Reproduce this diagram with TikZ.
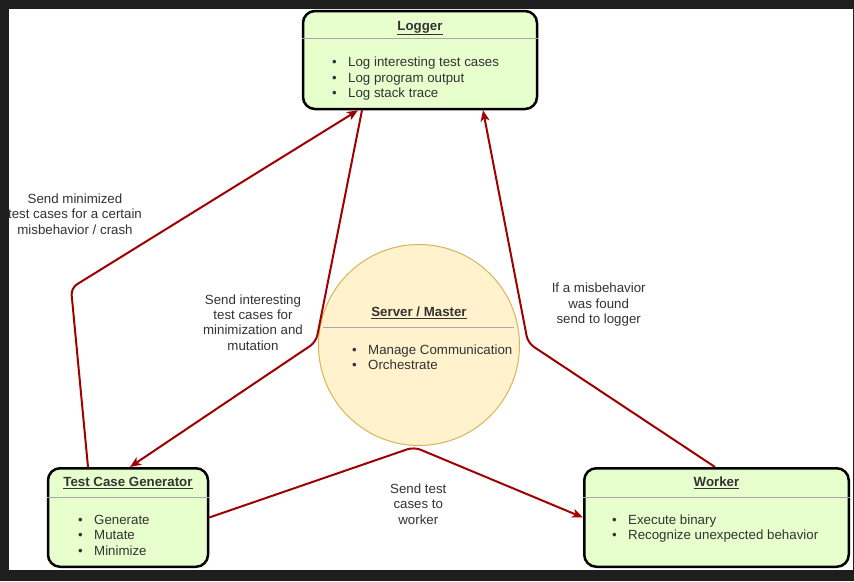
\documentclass[tikz,border=0pt]{standalone}
\usepackage{fontspec}
\setmainfont{Liberation Sans}
\usetikzlibrary{arrows.meta}
\definecolor{framec}{HTML}{1E1E1E}
\definecolor{boxfill}{HTML}{E6FFCC}
\definecolor{srvfill}{HTML}{FFF2CC}
\definecolor{srvline}{HTML}{D6B656}
\definecolor{edgec}{HTML}{A00000}
\definecolor{txtc}{HTML}{333333}
\definecolor{sepc}{HTML}{A8A8A8}
\newcommand\bul{\makebox[16pt][l]{\textbullet}}
\begin{document}
\begin{tikzpicture}[x=1pt,y=-1pt,
  box/.style={draw=black, line width=2.5pt, fill=boxfill, rounded corners=12pt, inner sep=0pt},
  srvbox/.style={circle, draw=srvline, line width=1pt, fill=srvfill, inner sep=0pt, minimum size=201pt},
  title/.style={font=\fontsize{13.3}{15.4}\selectfont\bfseries, text=txtc, anchor=base, inner sep=0pt},
  lst/.style={font=\fontsize{13.3}{15.4}\selectfont, text=txtc, align=left, anchor=base west, inner sep=0pt},
  lbl/.style={font=\fontsize{13.3}{15.4}\selectfont, text=txtc, align=center, anchor=base, inner sep=0pt},
  sepline/.style={draw=sepc, line width=1pt},
  conn/.style={draw=edgec, line width=2pt, rounded corners=7pt},
  tip/.style={-{Stealth[length=11pt,width=9pt,inset=3pt]}}
]
\useasboundingbox (0,0) rectangle (854,581);
\fill[framec] (0,0) rectangle (854,581);
\fill[white] (8.5,8.5) rectangle (853,570);

% boxes
\node[box, minimum width=234pt, minimum height=98pt] (logger) at (420,60) {};
\node[box, minimum width=160pt, minimum height=98.5pt] (tcg) at (128,517.5) {};
\node[box, minimum width=264.5pt, minimum height=98.5pt] (worker) at (716.5,517.5) {};
\node[srvbox] (srv) at (419,345) {};

% separators
\draw[sepline] ([yshift=-29pt]logger.north west) -- ([yshift=-29pt]logger.north east);
\draw[sepline] ([yshift=-30pt]tcg.north west) -- ([yshift=-30pt]tcg.north east);
\draw[sepline] ([yshift=-30pt]worker.north west) -- ([yshift=-30pt]worker.north east);
\draw[sepline] ([shift={(-96pt,18pt)}]srv.center) -- ([shift={(95pt,18pt)}]srv.center);

% titles
\node[title] (tlogger) at (420,30) {\underline{Logger}};
\node[title] (ttcg) at (128,486.5) {\underline{Test Case Generator}};
\node[title] (tworker) at (716.5,486.5) {\underline{Worker}};
\node[title] (tsrv) at (419,316.7) {\underline{Server / Master}};

% lists (anchor = baseline of last line)
\node[lst] (llogger) at (332,97.5) {\bul Log interesting test cases\\\bul Log program output\\\bul Log stack trace};
\node[lst] (ltcg) at (78,555.1) {\bul Generate\\\bul Mutate\\\bul Minimize};
\node[lst] (lworker) at (612,539.7) {\bul Execute binary\\\bul Recognize unexpected behavior};
\node[lst] (lsrv) at (352,369.7) {\bul Manage Communication\\\bul Orchestrate};

% corner points
\coordinate (c1) at (71,288);
\coordinate (c2) at (316,342);
\coordinate (c3) at (528,343);
\coordinate (c4) at (414,447);

% connectors
\draw[conn, tip] ([xshift=-40pt]tcg.north) -- (c1) -- ([xshift=-62pt]logger.south);
\draw[conn, tip] ([xshift=-58pt]logger.south) -- (c2) -- ([xshift=2pt]tcg.north);
\draw[conn, tip] ([xshift=-1.5pt]worker.north) -- (c3) -- ([xshift=63pt]logger.south);
\draw[conn, tip] (tcg.east) -- (c4) -- (worker.west);

% labels (anchor = baseline of last line)
\node[lbl] (l1) at (75,234.1) {Send minimized\\test cases for a certain\\misbehavior / crash};
\node[lbl] (l2) at (253,350.2) {Send interesting\\test cases for\\minimization and\\mutation};
\node[lbl] (l3) at (598.7,323.5) {If a misbehavior\\was found\\send to logger};
\node[lbl] (l4) at (418.3,524.1) {Send test\\cases to\\worker};
\end{tikzpicture}
\end{document}
